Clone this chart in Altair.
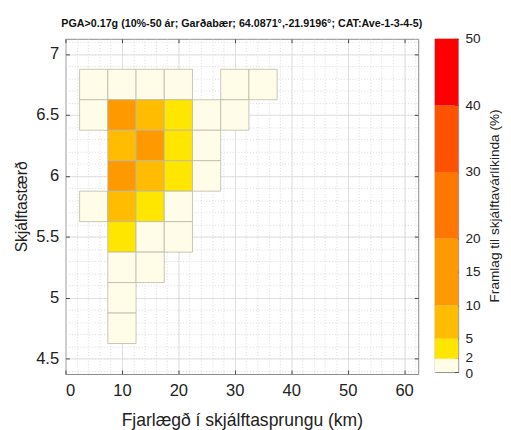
import altair as alt
import pandas as pd

# ---- data ----
dist_km = [5, 10, 15, 20, 30, 35,
           5, 10, 15, 20, 25, 30,
           10, 15, 20, 25,
           10, 15, 20, 25,
           5, 10, 15, 20,
           10, 15, 20,
           10, 15,
           10,
           10]
magnitude = [6.75] * 6 + [6.5] * 6 + [6.25] * 4 + [6.0] * 4 + [5.75] * 4 + [5.5] * 3 + [5.25] * 2 + [5.0] + [4.75]
contribution = [0.4, 1.2, 0.9, 0.6, 0.3, 0.2,
                0.5, 12.5, 8.5, 4.5, 0.8, 0.3,
                8.8, 13.0, 4.8, 0.9,
                12.8, 8.2, 3.9, 0.6,
                0.4, 7.5, 3.6, 1.3,
                3.2, 1.4, 0.7,
                1.6, 0.8,
                1.1,
                0.6]

bin_width_km = 5
bin_height_mag = 0.25

class_edges = [0, 2, 5, 10, 20, 30, 40, 50]
class_colors = ['#FFFDE8', '#FFE600', '#FFBC00', '#FF9900', '#FF7700', '#FF5200', '#FF0000']
colorbar_ticks = [0, 2, 5, 10, 15, 20, 30, 40, 50]

x_major = [0, 10, 20, 30, 40, 50, 60]
x_minor = list(range(0, 63, 2))
y_major = [4.5, 5, 5.5, 6, 6.5, 7]
y_minor = [round(4.4 + 0.1 * i, 1) for i in range(28)]

x_domain = [0, 62.5]
y_domain = [4.375, 7.125]

title_text = "PGA>0.17g (10%-50 ár; Garðabær; 64.0871°,-21.9196°; CAT:Ave-1-3-4-5)"
x_title = "Fjarlægð í skjálftasprungu (km)"
y_title = "Skjálftastærð"
cb_title = "Framlag til skjálftavárlíkinda (%)"

FONT = "Liberation Sans"

df = pd.DataFrame({"dist": dist_km, "mag": magnitude, "pct": contribution})
cb = pd.DataFrame({"lo": class_edges[:-1], "hi": class_edges[1:]})

xs = alt.Scale(domain=x_domain, nice=False, zero=False)
ys = alt.Scale(domain=y_domain, nice=False, zero=False)
thr = alt.Scale(type="threshold", domain=class_edges[1:-1], range=class_colors)

base = alt.Chart(df).transform_calculate(
    x1=f"datum.dist - {bin_width_km}/2",
    x2=f"datum.dist + {bin_width_km}/2",
    y1=f"datum.mag - {bin_height_mag}/2",
    y2=f"datum.mag + {bin_height_mag}/2",
)

blank = dict(labels=False, ticks=False, domain=False, title=None)

# minor dotted grid
minor = base.mark_point(opacity=0).encode(
    x=alt.X("x1:Q", scale=xs, axis=alt.Axis(orient="bottom", values=x_minor, grid=True,
                                             gridDash=[1, 2], gridColor="#d0d0d0", gridWidth=0.8, **blank)),
    y=alt.Y("y1:Q", scale=ys, axis=alt.Axis(orient="left", values=y_minor, grid=True,
                                             gridDash=[1, 2], gridColor="#d0d0d0", gridWidth=0.8, **blank)),
)

# inside ticks bottom/left
ticks_bl = base.mark_point(opacity=0).encode(
    x=alt.X("x1:Q", scale=xs, axis=alt.Axis(orient="bottom", values=x_major, grid=False, labels=False,
                                             domain=False, ticks=True, tickSize=4, offset=-4,
                                             tickColor="#444", title=None)),
    y=alt.Y("y1:Q", scale=ys, axis=alt.Axis(orient="left", values=y_major, grid=False, labels=False,
                                             domain=False, ticks=True, tickSize=4, offset=-4,
                                             tickColor="#444", title=None)),
)
# inside ticks top/right
ticks_tr = base.mark_point(opacity=0).encode(
    x=alt.X("x1:Q", scale=xs, axis=alt.Axis(orient="top", values=x_major, grid=False, labels=False,
                                             domain=False, ticks=True, tickSize=4, offset=-4,
                                             tickColor="#444", title=None)),
    y=alt.Y("y1:Q", scale=ys, axis=alt.Axis(orient="right", values=y_major, grid=False, labels=False,
                                             domain=False, ticks=True, tickSize=4, offset=-4,
                                             tickColor="#444", title=None)),
)

cells = base.mark_rect(stroke="#b8b8a8", strokeWidth=0.8).encode(
    x=alt.X("x1:Q", scale=xs, axis=alt.Axis(orient="bottom", values=x_major, grid=True, gridColor="#dadada",
                                             gridWidth=0.8, ticks=False, tickSize=0, domain=False,
                                             labelFontSize=17, labelFont=FONT, labelColor="#222",
                                             labelPadding=9, title=x_title, titleFont=FONT,
                                             titleFontSize=18, titleFontWeight="normal",
                                             titleColor="#222", titlePadding=14)),
    x2="x2:Q",
    y=alt.Y("y1:Q", scale=ys, axis=alt.Axis(orient="left", values=y_major, grid=True, gridColor="#dadada",
                                             gridWidth=0.8, ticks=False, tickSize=0, domain=False,
                                             format=".1~f",
                                             labelFontSize=17, labelFont=FONT, labelColor="#222",
                                             labelPadding=7, title=y_title, titleFont=FONT,
                                             titleFontSize=16, titleFontWeight="normal",
                                             titleColor="#222", titlePadding=6)),
    y2="y2:Q",
    color=alt.Color("pct:Q", scale=thr, legend=None),
)

main = alt.layer(minor, ticks_bl, ticks_tr, cells).resolve_axis(x="independent", y="independent").properties(
    width=362, height=344,
    title=alt.Title(title_text, font=FONT, fontSize=11, fontWeight="bold", anchor="middle",
                    color="#111", offset=10),
)

cb_label_shift = {"condition": [{"test": "datum.value == 0", "value": 1.5},
                                {"test": "datum.value == 2", "value": -1.5}],
                  "value": 0}

colorbar = alt.Chart(cb).mark_rect().encode(
    y=alt.Y("lo:Q", scale=alt.Scale(domain=[0, 50], nice=False),
            axis=alt.Axis(orient="right", values=colorbar_ticks, grid=False, domain=False,
                          ticks=True, tickSize=4, offset=-4, tickColor="#444",
                          labelOverlap=False, labelBound=False, labelOffset=cb_label_shift,
                          labelFontSize=14, labelFont=FONT, labelColor="#222", labelPadding=7,
                          title=cb_title, titleFont=FONT, titleFontSize=14, titleFontWeight="normal",
                          titleColor="#222", titleAngle=270, titleBaseline="top", titlePadding=8)),
    y2="hi:Q",
    color=alt.Color("lo:Q", scale=thr, legend=None),
).properties(width=24, height=342)

chart = alt.hconcat(main, colorbar, spacing=10).configure_view(
    stroke="#8a8a8a", strokeWidth=1
).properties(padding={"left": 5, "top": 4, "right": 0, "bottom": 0}, background="white")

chart.save("out.html", embed_options={"renderer": "svg", "actions": False})
